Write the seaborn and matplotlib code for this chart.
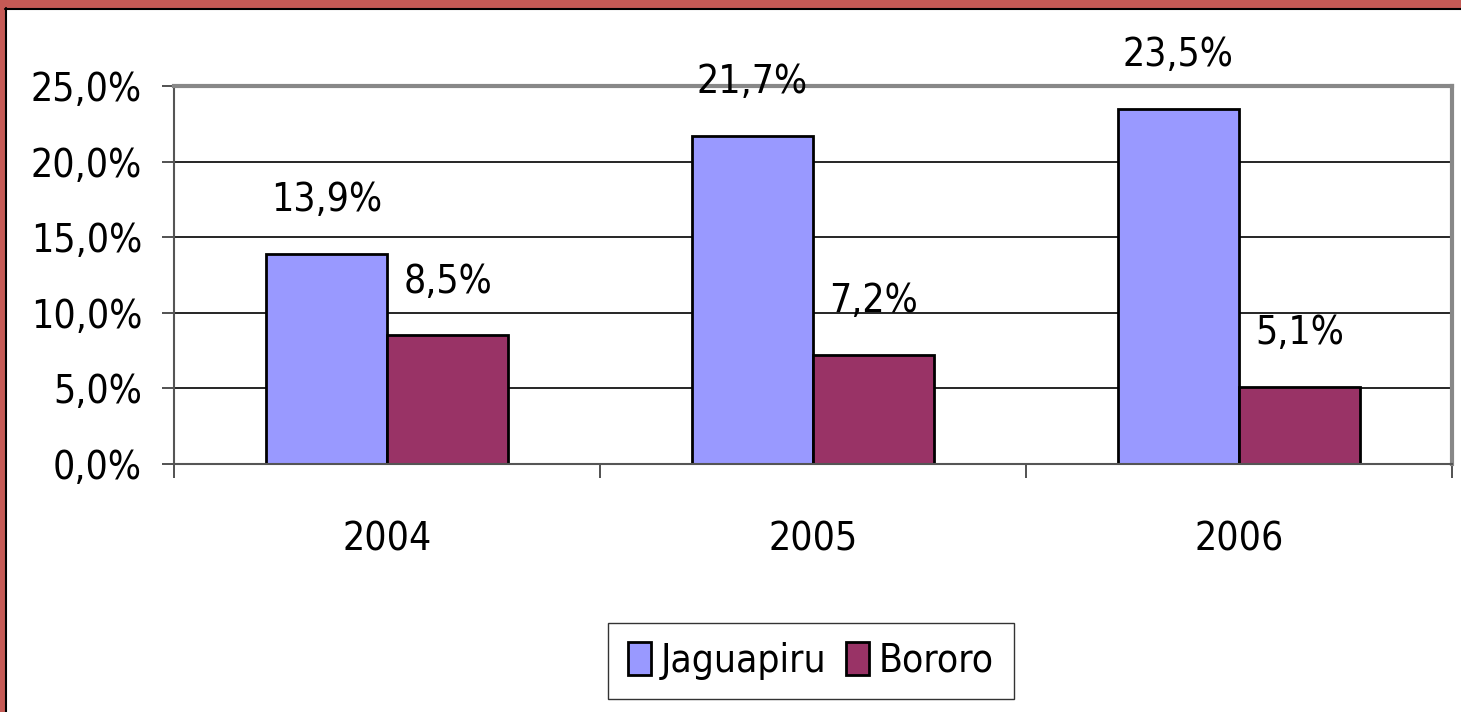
import pandas as pd
import matplotlib.pyplot as plt
import seaborn as sns
from matplotlib.patches import Rectangle
from matplotlib.lines import Line2D

# Data
years = ["2004", "2005", "2006"]
jaguapiru = [13.9, 21.7, 23.5]
bororo = [8.5, 7.2, 5.1]
series = ["Jaguapiru", "Bororo"]
colors = ["#9999FF", "#993366"]

df = pd.DataFrame({
    "ano": years * 2,
    "valor": jaguapiru + bororo,
    "grupo": [series[0]] * 3 + [series[1]] * 3,
})

sns.set_style("white")
plt.rcParams["font.family"] = ["DejaVu Sans"]
plt.rcParams["font.stretch"] = "condensed"
plt.rcParams["text.color"] = "black"
plt.rcParams["xtick.color"] = "black"
plt.rcParams["ytick.color"] = "black"

fs = 28

fig = plt.figure(figsize=(14.61, 7.12), dpi=100)
ax = fig.add_axes([174 / 1461, 1 - 464 / 712, (1452 - 174) / 1461, (464 - 86) / 712])

sns.barplot(data=df, x="ano", y="valor", hue="grupo", palette=colors, saturation=1,
            width=0.57, edgecolor="black", linewidth=2, ax=ax, legend=True)

# value labels
for cont in ax.containers:
    for bar in cont:
        h = bar.get_height()
        ax.annotate(f"{h:.1f}%".replace(".", ","),
                    (bar.get_x() + bar.get_width() / 2, h),
                    xytext=(0, 25), textcoords="offset points",
                    ha="center", va="bottom", fontsize=fs)

ax.set_ylim(0, 25)
ax.set_xlim(-0.5, 2.5)
ax.set_yticks([0, 5, 10, 15, 20, 25])
ax.set_yticklabels([f"{v:.1f}%".replace(".", ",") for v in [0, 5, 10, 15, 20, 25]], fontsize=fs)
ax.yaxis.grid(True, color="black", linewidth=1.2)
ax.set_axisbelow(True)
ax.tick_params(axis="y", direction="out", length=9, width=1.2, color="#333333", pad=14, left=True)

ax.set_xticks([0, 1, 2])
ax.set_xticklabels(years, fontsize=fs)
ax.set_xticks([-0.5, 0.5, 1.5, 2.5], minor=True)
ax.tick_params(axis="x", which="major", length=0, pad=41)
ax.tick_params(axis="x", which="minor", direction="out", length=10, width=1.2, color="#333333", bottom=True)
ax.set_xlabel("")
ax.set_ylabel("")

for s in ["left", "bottom"]:
    ax.spines[s].set_color("#555555")
    ax.spines[s].set_linewidth(1.5)
for s in ["top", "right"]:
    ax.spines[s].set_color("#888888")
    ax.spines[s].set_linewidth(3)

leg = ax.legend(loc="center", bbox_to_anchor=(811 / 1461, 1 - 661 / 712),
                bbox_transform=fig.transFigure, ncol=2, fontsize=fs,
                frameon=True, fancybox=False, edgecolor="black",
                handlelength=0.6, handleheight=0.9, handletextpad=0.25,
                columnspacing=0.5, borderpad=0.5, borderaxespad=0)
leg.get_frame().set_linewidth(1)
for h in leg.legend_handles:
    h.set_edgecolor("black")
    h.set_linewidth(2)

# red frame at the left and top edge
fig.add_artist(Rectangle((0, 0), 5 / 1461, 1, transform=fig.transFigure,
                         facecolor="#C55A55", edgecolor="none"))
fig.add_artist(Rectangle((0, 1 - 8 / 712), 1, 8 / 712, transform=fig.transFigure,
                         facecolor="#C55A55", edgecolor="none"))
fig.add_artist(Line2D([5.5 / 1461, 5.5 / 1461], [0, 1 - 8 / 712], transform=fig.transFigure,
                      color="black", linewidth=1.5))
fig.add_artist(Line2D([5 / 1461, 1], [1 - 8.5 / 712, 1 - 8.5 / 712], transform=fig.transFigure,
                      color="black", linewidth=1.5))

plt.savefig("out.png", dpi=100)
